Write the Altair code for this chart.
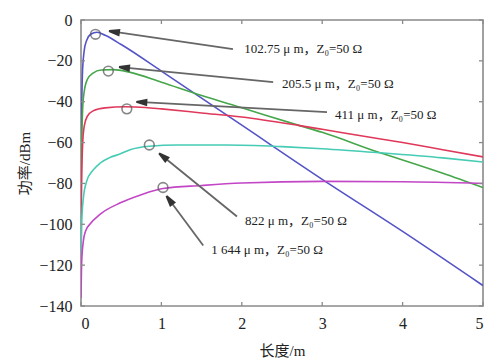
import math
import altair as alt
import pandas as pd

# ---------------- data ----------------
series_names = ["102.75 μm", "205.5 μm", "411 μm", "822 μm", "1 644 μm"]
series_colors = ["#5454c8", "#46a64a", "#e0385a", "#46cbb4", "#c246c6"]

blue_x = [0, 0.005, 0.01, 0.02, 0.04, 0.07, 0.12, 0.2, 0.3, 0.5, 1, 2, 3, 4, 5]
blue_y = [-70, -55, -40, -24, -15, -10, -7, -6, -7.5, -12, -25, -51.5, -78, -103.5, -130]

green_x = [0, 0.005, 0.01, 0.02, 0.04, 0.08, 0.15, 0.25, 0.4, 0.6, 1, 1.5, 2, 2.72, 3, 3.72, 4, 4.5, 5]
green_y = [-85, -70, -58, -44, -35, -29, -26, -24.5, -24.3, -25.5, -30.5, -37, -43, -51.7, -55, -65, -68.5, -75, -82]

red_x = [0, 0.005, 0.01, 0.02, 0.04, 0.08, 0.15, 0.3, 0.55, 0.8, 1, 1.5, 2, 2.72, 3, 3.5, 4, 4.5, 5]
red_y = [-100, -88, -75, -61, -52, -47, -44.5, -43, -42.5, -42.8, -43.5, -45.5, -47.5, -51.7, -53.5, -56.8, -60, -63.5, -67]

cyan_x = [0, 0.01, 0.03, 0.07, 0.15, 0.24, 0.35, 0.49, 0.61, 0.85, 1.2, 1.8, 2.5, 3, 3.72, 4.5, 5]
cyan_y = [-117, -98, -87, -79, -73.5, -70, -67.5, -65.5, -63.5, -61.8, -61.2, -61.2, -62, -63, -65, -67.5, -69.5]

mag_x = [0, 0.005, 0.01, 0.03, 0.06, 0.11, 0.24, 0.49, 0.75, 1.02, 1.5, 2, 3, 4, 5]
mag_y = [-136, -124, -117, -108, -103, -100, -95, -89.5, -85.5, -82.5, -81, -79.8, -79, -79.2, -80]

# circle markers at the curve maxima
marker_x = [0.18, 0.34, 0.57, 0.85, 1.02]
marker_y = [-7, -25, -43.5, -61.2, -82]

# annotation labels
label_text = ["102.75 μ m，Z₀=50 Ω", "205.5 μ m，Z₀=50 Ω", "411 μ m，Z₀=50 Ω",
              "822 μ m，Z₀=50 Ω", "1 644 μ m，Z₀=50 Ω"]
label_x = [2.03, 2.5, 3.16, 2.04, 1.62]
label_y = [-14.4, -31.4, -46.5, -98.2, -112.8]

# arrows: tail -> head
arrow_x1 = [1.89, 2.39, 3.06, 1.94, 1.52]
arrow_y1 = [-14.3, -30.4, -45.1, -96.2, -110.4]
arrow_x2 = [0.36, 0.485, 0.70, 0.98, 1.07]
arrow_y2 = [-5.5, -23.1, -40.1, -65.5, -86.5]

x_ticks = [0, 1, 2, 3, 4, 5]
y_ticks = [-140, -120, -100, -80, -60, -40, -20, 0]

# ---------------- layout ----------------
W, H = 402, 286
XMIN, XMAX, YMIN, YMAX = 0, 5, -140, 0
SERIF = "Liberation Serif"
SERIF_CJK = "Liberation Serif, Noto Sans CJK SC"
FRAME = "#8a8a8a"

xs = [blue_x, green_x, red_x, cyan_x, mag_x]
ys = [blue_y, green_y, red_y, cyan_y, mag_y]
rows = []
for name, xx, yy in zip(series_names, xs, ys):
    for i, (a, b) in enumerate(zip(xx, yy)):
        rows.append({"s": name, "x": a, "y": b, "o": i})
curves = pd.DataFrame(rows)

xsc = alt.Scale(domain=[XMIN, XMAX], nice=False, zero=False, padding=0)
ysc = alt.Scale(domain=[YMIN, YMAX], nice=False, zero=False, padding=0)
col = alt.Scale(domain=series_names, range=series_colors)

AXCOMMON = dict(domain=False, ticks=False, grid=False,
                labelFont=SERIF, labelFontSize=16, labelColor="#222",
                titleFont=SERIF_CJK, titleFontSize=15, titleFontWeight="normal", titleColor="#222")
AXX = alt.Axis(values=x_ticks, format="d", title="长度/m", labelPadding=9, titlePadding=12, **AXCOMMON)
AXY = alt.Axis(values=y_ticks, format="d", title="功率/dBm", labelPadding=9, titlePadding=6, **AXCOMMON)


def X(f):
    return alt.X(f, type="quantitative", scale=xsc, axis=AXX)


def Y(f):
    return alt.Y(f, type="quantitative", scale=ysc, axis=AXY)


lines = alt.Chart(curves).mark_line(strokeWidth=1.6, interpolate="monotone", clip=True).encode(
    x=X("x"), y=Y("y"),
    color=alt.Color("s:N", scale=col, legend=None),
    order="o:Q",
    detail="s:N",
)

markers = alt.Chart(pd.DataFrame({"x": marker_x, "y": marker_y})).mark_point(
    shape="circle", size=95, filled=False, stroke="#555", strokeWidth=1.6
).encode(x=X("x"), y=Y("y"))

# arrows
px_per_x = W / (XMAX - XMIN)
px_per_y = H / (YMAX - YMIN)
arows = []
for i in range(len(arrow_x1)):
    dxp = (arrow_x2[i] - arrow_x1[i]) * px_per_x
    dyp = -(arrow_y2[i] - arrow_y1[i]) * px_per_y
    L = math.hypot(dxp, dyp)
    ang = math.degrees(math.atan2(dxp, -dyp)) % 360
    back = 5.0
    hx = arrow_x2[i] - (dxp / L) * back / px_per_x
    hy = arrow_y2[i] + (dyp / L) * back / px_per_y
    arows.append({"x1": arrow_x1[i], "y1": arrow_y1[i], "x2": hx, "y2": hy,
                  "hx": hx, "hy": hy, "ang": ang})
adf = pd.DataFrame(arows)

shafts = alt.Chart(adf).mark_rule(stroke="#666", strokeWidth=1.8).encode(
    x=X("x1"), y=Y("y1"), x2="x2:Q", y2="y2:Q")
heads = alt.Chart(adf).mark_point(shape="M0,-1.3L0.55,0.9L-0.55,0.9Z", filled=True, fill="#333",
                                  stroke="#333", size=80, opacity=1).encode(
    x=X("hx"), y=Y("hy"), angle=alt.Angle("ang:Q", scale=None))

labels = alt.Chart(pd.DataFrame({"t": label_text, "x": label_x, "y": label_y})).mark_text(
    align="left", baseline="middle", font=SERIF_CJK, fontSize=13, color="#222"
).encode(x=X("x"), y=Y("y"), text="t:N")

# inward ticks on all four sides
xt = pd.DataFrame({"t": x_ticks})
yt = pd.DataFrame({"t": y_ticks})
tk = dict(stroke=FRAME, strokeWidth=1.3)
xb = alt.Chart(xt).mark_rule(**tk).encode(x=X("t"), y=alt.value(H), y2=alt.value(H - 4))
xtp = alt.Chart(xt).mark_rule(**tk).encode(x=X("t"), y=alt.value(0), y2=alt.value(4))
yl = alt.Chart(yt).mark_rule(**tk).encode(y=Y("t"), x=alt.value(0), x2=alt.value(4))
yr = alt.Chart(yt).mark_rule(**tk).encode(y=Y("t"), x=alt.value(W), x2=alt.value(W - 4))

chart = alt.layer(lines, markers, shafts, heads, labels, xb, xtp, yl, yr).properties(
    width=W, height=H,
    autosize=alt.AutoSizeParams(type="none"),
    padding={"left": 73, "top": 12, "right": 9, "bottom": 52},
    background="white",
).configure_view(stroke=FRAME, strokeWidth=1.6)

chart.save("out.html", embed_options={"renderer": "svg", "actions": False})
